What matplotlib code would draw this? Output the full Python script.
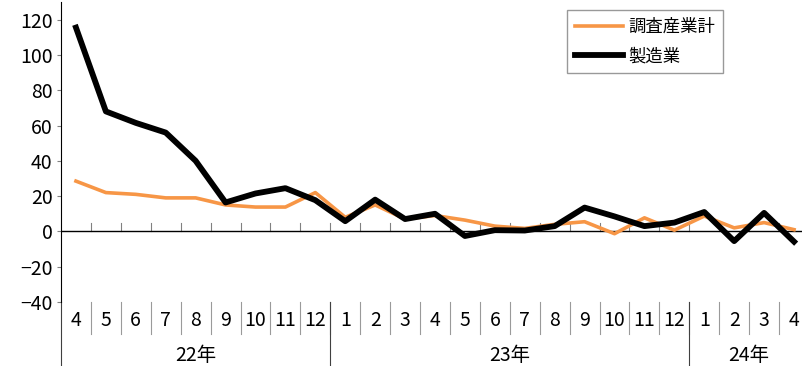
import matplotlib
matplotlib.use("Agg")
from matplotlib import pyplot as plt
import matplotlib.transforms as mtransforms

plt.rcParams['font.family'] = ['Noto Sans CJK JP', 'DejaVu Sans']

months = ['4', '5', '6', '7', '8', '9', '10', '11', '12',
          '1', '2', '3', '4', '5', '6', '7', '8', '9', '10', '11', '12',
          '1', '2', '3', '4']
years = ['22年', '23年', '24年']
year_counts = [9, 12, 4]

total = [28.5, 22, 21, 19, 19, 15, 13.8, 13.8, 22,
         8, 15, 7, 9, 6.4, 3, 1.7, 4, 5.5, -1.3, 7.7, 0.7,
         8.7, 2, 5, 1]
manuf = [115.5, 68, 61.5, 56, 40, 16.4, 21.5, 24.5, 17.7,
         5.8, 18, 7, 10, -2.6, 0.7, 0.5, 3, 13.5, 8.5, 3, 5,
         11, -5.5, 10.5, -5.8]

fig = plt.figure(figsize=(8.03, 3.66), dpi=100)
ax = fig.add_axes([61 / 803, 64 / 366, 748 / 803, 300 / 366])

x = list(range(len(months)))
ax.plot(x, total, color='#F79646', lw=2.6, label='調査産業計', zorder=3)
ax.plot(x, manuf, color='black', lw=4.2, label='製造業', zorder=4)

ax.set_xlim(-0.5, len(months) - 0.5)
ax.set_ylim(-40, 130)
ax.set_yticks(range(-40, 121, 20))
ax.tick_params(axis='y', labelsize=14, length=3, color='#808080', pad=3)
ax.set_xticks([])
for s in ['top', 'right', 'bottom']:
    ax.spines[s].set_visible(False)
ax.spines['left'].set_color('black')

# zero line and its small tick marks
ax.axhline(0, color='black', lw=1.0, zorder=2)
for b in range(len(months) - 1):
    ax.plot([b + 0.5, b + 0.5], [0, 5], color='#808080', lw=0.8, zorder=1)

# category axis below the plot
trans = mtransforms.blended_transform_factory(ax.transData, ax.transAxes)
for i, m in enumerate(months):
    ax.text(i, -0.06, m, transform=trans, ha='center', va='center', fontsize=14)
    if i > 0:
        ax.plot([i - 0.5, i - 0.5], [0, -0.105], transform=trans, color='#9a9a9a',
                lw=0.8, clip_on=False)

start = 0
for y, n in zip(years, year_counts):
    ax.text(start + (n - 1) / 2, -0.178, y, transform=trans, ha='center', va='center',
            fontsize=14)
    ax.plot([start - 0.5, start - 0.5], [0, -0.215], transform=trans, color='#404040',
            lw=0.8, clip_on=False)
    start += n

leg = ax.legend(loc='upper left', bbox_to_anchor=(506 / 748, 0.973), fontsize=12.5,
                frameon=True, fancybox=False, edgecolor='#808080', handlelength=2.8,
                handletextpad=0.3, borderpad=0.45, labelspacing=0.65, borderaxespad=0)
leg.get_frame().set_linewidth(1.0)

fig.savefig('out.png', dpi=100)
